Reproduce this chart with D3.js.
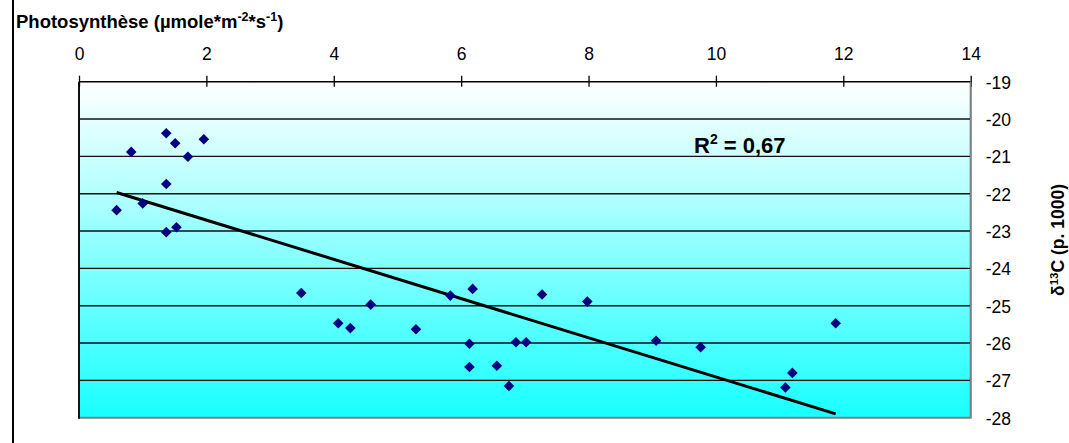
<!DOCTYPE html>
<html><head><meta charset="utf-8">
<script src="https://cdn.jsdelivr.net/npm/d3@7/dist/d3.min.js"></script>
<style>
html,body{margin:0;padding:0;background:#fff;}
svg{display:block;font-family:Arial,"Liberation Sans",sans-serif;}
</style></head>
<body><svg id="c" width="1069" height="443"></svg>
<script>
const photo = [0.59,0.82,1.00,1.37,1.51,1.71,1.96,1.37,1.37,1.53,3.49,4.07,4.26,4.58,5.29,5.83,6.18,6.13,6.13,6.56,6.75,6.86,7.02,7.27,7.98,9.06,9.76,11.09,11.20,11.88];
const delta = [-22.44,-20.88,-22.26,-20.38,-20.65,-21.01,-20.54,-21.74,-23.03,-22.90,-24.66,-25.47,-25.60,-24.97,-25.63,-24.73,-24.55,-26.02,-26.64,-26.61,-27.15,-25.98,-25.98,-24.70,-24.89,-25.94,-26.11,-27.19,-26.80,-25.47];
const xTicks = [0,2,4,6,8,10,12,14];
const yTicks = [-19,-20,-21,-22,-23,-24,-25,-26,-27,-28];
const r2Label = "0,67";

const svg = d3.select("#c");
const L=79, R=970.7, T=81.7, B=417.7;
const x = d3.scaleLinear().domain([0,14]).range([L,R]);
const y = d3.scaleLinear().domain([-19,-28]).range([T,B]);

const defs = svg.append("defs");
const g = defs.append("linearGradient").attr("id","bg").attr("x1",0).attr("y1",0).attr("x2",0).attr("y2",1);
g.append("stop").attr("offset","0%").attr("stop-color","#ffffff");
g.append("stop").attr("offset","100%").attr("stop-color","#18ffff");

svg.append("line").attr("x1",13).attr("x2",13).attr("y1",0).attr("y2",443).attr("stroke","#000").attr("stroke-width",2);

svg.append("rect").attr("x",L).attr("y",T).attr("width",R-L).attr("height",B-T).attr("fill","url(#bg)");
svg.append("path").attr("d",`M${L},${B}H${R}V${T}`).attr("fill","none").attr("stroke","#808080").attr("stroke-width",2);

svg.append("g").selectAll("line").data(yTicks.filter(d=>d!==-19 && d!==-28)).join("line")
  .attr("x1",L).attr("x2",R).attr("y1",d=>y(d)).attr("y2",d=>y(d))
  .attr("stroke","#111").attr("stroke-width",1.4);

svg.append("line").attr("x1",L).attr("x2",L).attr("y1",T).attr("y2",B+1).attr("stroke","#111").attr("stroke-width",2);

// top axis
const xAxis = d3.axisTop(x).tickValues(xTicks).tickSize(6).tickPadding(16).tickFormat(d=>String(d));
const xa = svg.append("g").attr("transform",`translate(0,${T})`).call(xAxis);
xa.select(".domain").attr("stroke","#000").attr("stroke-width",1.5).attr("d",`M${L},0H${R}`);
xa.selectAll(".tick line").attr("stroke","#000").attr("stroke-width",1.3).attr("y1",5).attr("y2",-6);
xa.selectAll("text").attr("font-size",17.5).attr("fill","#000").attr("font-family","Arial");

// right axis
const yAxis = d3.axisRight(y).tickValues(yTicks).tickSize(0).tickPadding(15).tickFormat(d=>String(d));
const ya = svg.append("g").attr("transform",`translate(${R},0)`).call(yAxis);
ya.select(".domain").attr("stroke","#808080").attr("stroke-width",1.5).attr("d",`M0,${T}V${B}`);
ya.selectAll("text").attr("font-size",17.5).attr("fill","#000").attr("font-family","Arial").attr("dy","0.36em");

// regression
const n = photo.length;
const mx = d3.mean(photo), my = d3.mean(delta);
let sxy=0,sxx=0;
for(let i=0;i<n;i++){sxy+=(photo[i]-mx)*(delta[i]-my);sxx+=(photo[i]-mx)**2;}
const slope = sxy/sxx, icpt = my - slope*mx;
const [xmin,xmax] = d3.extent(photo);
svg.append("line")
  .attr("x1",x(xmin)).attr("y1",y(icpt+slope*xmin))
  .attr("x2",x(xmax)).attr("y2",y(icpt+slope*xmax))
  .attr("stroke","#000").attr("stroke-width",3);

const pts = photo.map((p,i)=>[p,delta[i]]);
svg.append("g").selectAll("path").data(pts).join("path")
  .attr("transform",d=>`translate(${x(d[0])},${y(d[1])})`)
  .attr("d","M0,-5.3L5.3,0L0,5.3L-5.3,0Z").attr("fill","#000080");

const rt = svg.append("text").attr("x",694).attr("y",153).attr("font-size",22).attr("font-weight","bold").attr("font-family","Arial");
rt.append("tspan").text("R");
rt.append("tspan").attr("dy",-9).attr("font-size",14).text("2");
rt.append("tspan").attr("dy",9).text(" = " + r2Label);

const tt = svg.append("text").attr("x",16).attr("y",28).attr("font-size",18.5).attr("font-weight","bold").attr("font-family","Arial");
tt.append("tspan").text("Photosynthèse (µmole*m");
tt.append("tspan").attr("dy",-7).attr("font-size",12.5).text("-2");
tt.append("tspan").attr("dy",7).text("*s");
tt.append("tspan").attr("dy",-7).attr("font-size",12.5).text("-1");
tt.append("tspan").attr("dy",7).text(")");

const rtit = svg.append("text").attr("transform","translate(1064,240) rotate(-90)").attr("text-anchor","middle")
  .attr("font-size",17.5).attr("font-weight","bold").attr("font-family","Arial");
rtit.append("tspan").text("δ");
rtit.append("tspan").attr("dy",-6).attr("font-size",11.5).text("13");
rtit.append("tspan").attr("dy",6).text("C (p. 1000)");
</script></body></html>
